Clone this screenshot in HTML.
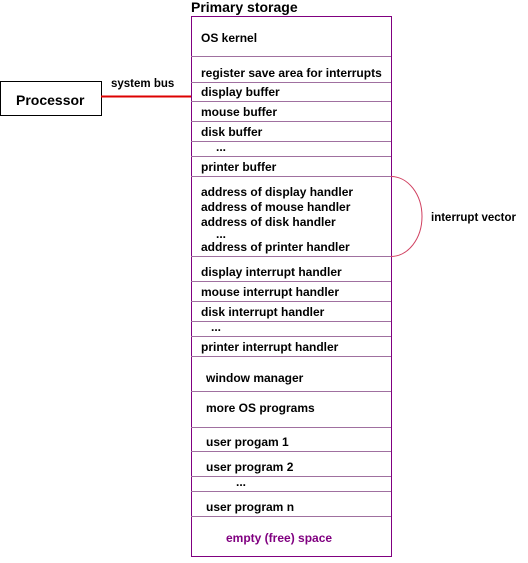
<!DOCTYPE html>
<html><head><meta charset="utf-8"><style>
html,body{margin:0;padding:0;background:#fff}
svg text{font-family:"Liberation Sans",Arial,sans-serif;font-weight:bold;font-size:12px;fill:#000}
</style></head><body>
<svg width="528" height="558" viewBox="0 0 528 558" xmlns="http://www.w3.org/2000/svg">
<rect x="0.5" y="81.5" width="101" height="34" fill="#fff" stroke="#000" stroke-width="1"/>
<text x="16" y="105" style="font-size:14px">Processor</text>
<line x1="101" y1="96.5" x2="191" y2="96.5" stroke="#d00" stroke-width="2"/>
<text x="111" y="87" style="font-size:11.5px">system bus</text>
<text x="191" y="12" style="font-size:14px">Primary storage</text>
<rect x="191.5" y="16.5" width="200" height="540" fill="none" stroke="#800080" stroke-width="1"/>
<g stroke="#a070a0" stroke-width="1">
<line x1="191" x2="391" y1="56.5" y2="56.5"/>
<line x1="191" x2="391" y1="82.5" y2="82.5"/>
<line x1="191" x2="391" y1="101.5" y2="101.5"/>
<line x1="191" x2="391" y1="121.5" y2="121.5"/>
<line x1="191" x2="391" y1="141.5" y2="141.5"/>
<line x1="191" x2="391" y1="156.5" y2="156.5"/>
<line x1="191" x2="391" y1="176.5" y2="176.5"/>
<line x1="191" x2="391" y1="256.5" y2="256.5"/>
<line x1="191" x2="391" y1="281.5" y2="281.5"/>
<line x1="191" x2="391" y1="301.5" y2="301.5"/>
<line x1="191" x2="391" y1="321.5" y2="321.5"/>
<line x1="191" x2="391" y1="336.5" y2="336.5"/>
<line x1="191" x2="391" y1="356.5" y2="356.5"/>
<line x1="191" x2="391" y1="391.5" y2="391.5"/>
<line x1="191" x2="391" y1="427.5" y2="427.5"/>
<line x1="191" x2="391" y1="451.5" y2="451.5"/>
<line x1="191" x2="391" y1="476.5" y2="476.5"/>
<line x1="191" x2="391" y1="491.5" y2="491.5"/>
<line x1="191" x2="391" y1="516.5" y2="516.5"/>
</g>
<path d="M391 176.5 A31 40 0 0 1 391 256.5" fill="none" stroke="#d04060" stroke-width="1"/>
<text x="431" y="221" style="font-size:11.5px">interrupt vector</text>
<text x="201" y="42">OS kernel</text>
<text x="201" y="77">register save area for interrupts</text>
<text x="201" y="96">display buffer</text>
<text x="201" y="116">mouse buffer</text>
<text x="201" y="136">disk buffer</text>
<text x="216" y="151">...</text>
<text x="201" y="196">address of display handler</text>
<text x="201" y="171">printer buffer</text>
<text x="201" y="211">address of mouse handler</text>
<text x="201" y="226">address of disk handler</text>
<text x="216" y="238">...</text>
<text x="201" y="251">address of printer handler</text>
<text x="201" y="276">display interrupt handler</text>
<text x="201" y="296">mouse interrupt handler</text>
<text x="201" y="316">disk interrupt handler</text>
<text x="211" y="331">...</text>
<text x="201" y="351">printer interrupt handler</text>
<text x="206" y="382">window manager</text>
<text x="206" y="412">more OS programs</text>
<text x="206" y="446">user progam 1</text>
<text x="206" y="471">user program 2</text>
<text x="236" y="486">...</text>
<text x="206" y="511">user program n</text>
<text x="226" y="542" style="fill:#800080">empty (free) space</text>
</svg>
</body></html>
